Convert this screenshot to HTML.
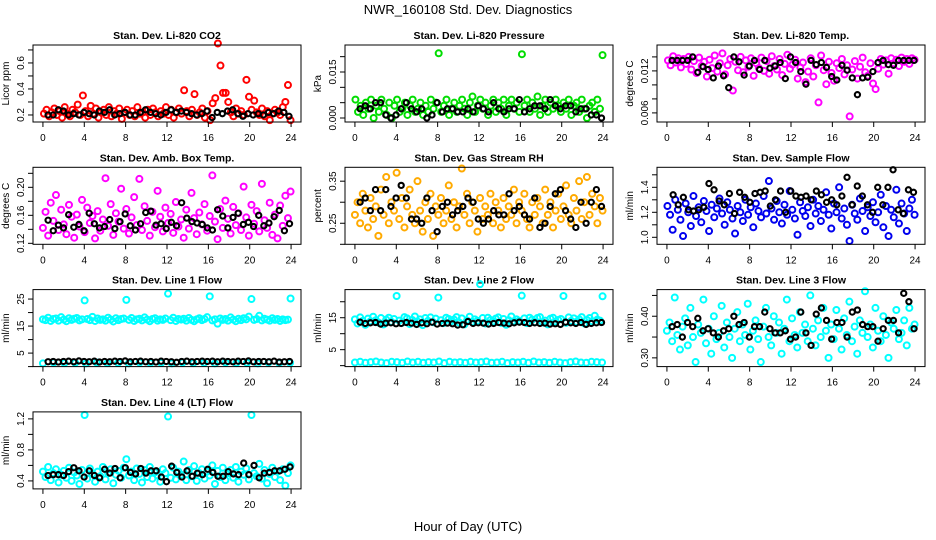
<!DOCTYPE html>
<html><head><meta charset="utf-8"><style>
html,body{margin:0;padding:0;background:#fff;}
svg{display:block;font-family:"Liberation Sans",sans-serif;}
</style></head><body>
<svg id="chart" width="936" height="540" viewBox="0 0 936 540">
<rect x="0" y="0" width="936" height="540" fill="#fff"/>
<text x="468" y="14" text-anchor="middle" font-size="13">NWR_160108  Std. Dev. Diagnostics</text>
<text x="468" y="531" text-anchor="middle" font-size="13">Hour of Day (UTC)</text>
</svg>
<script>
const xTicks = [0,4,8,12,16,20,24];
const co2Color = [0.21,0.24,0.19,0.22,0.25,0.2,0.23,0.18,0.26,0.21,0.19,0.24,0.22,0.28,0.2,0.35,0.23,0.19,0.27,0.21,0.25,0.18,0.22,0.24,0.2,0.26,0.19,0.23,0.21,0.25,0.17,0.22,0.24,0.2,0.23,0.19,0.26,0.21,0.22,0.18,0.24,0.2,0.25,0.22,0.19,0.23,0.21,0.26,0.2,0.24,0.18,0.22,0.25,0.21,0.39,0.23,0.19,0.24,0.36,0.2,0.22,0.25,0.18,0.23,0.16,0.29,0.33,0.75,0.58,0.37,0.37,0.3,0.22,0.19,0.25,0.21,0.23,0.2,0.47,0.34,0.24,0.31,0.22,0.2,0.25,0.19,0.23,0.16,0.21,0.24,0.22,0.2,0.26,0.3,0.43,0.16];
const co2Black = [0.2,0.2,0.24,0.23,0.2,0.21,0.2,0.22,0.21,0.2,0.23,0.22,0.24,0.2,0.21,0.22,0.2,0.2,0.22,0.24,0.22,0.21,0.2,0.22,0.24,0.22,0.23,0.22,0.21,0.2,0.21,0.23,0.18,0.22,0.21,0.23,0.24,0.21,0.19,0.21,0.2,0.21,0.2,0.22,0.21,0.23,0.22,0.19];
const presColor = [0.006,0.002,0.004,0.001,0.005,0.003,0.006,0.0,0.004,0.002,0.006,0.003,0.001,0.005,0.0,0.004,0.006,0.002,0.003,0.005,0.001,0.004,0.006,0.002,0.003,0.005,0.001,0.004,0.002,0.006,0.003,0.005,0.0211,0.002,0.004,0.006,0.001,0.003,0.005,0.002,0.004,0.006,0.003,0.001,0.005,0.007,0.002,0.004,0.006,0.003,0.005,0.001,0.004,0.006,0.002,0.005,0.003,0.006,0.001,0.004,0.006,0.003,0.005,0.002,0.0208,0.004,0.006,0.002,0.005,0.003,0.007,0.001,0.004,0.006,0.002,0.005,0.003,0.006,0.004,0.002,0.005,0.003,0.006,0.001,0.004,0.005,0.002,0.006,0.003,0.0,0.004,0.005,0.002,0.006,0.003,0.0205];
const presBlack = [0.003,0.004,0.003,0.005,0.005,0.001,0.0,0.001,0.003,0.005,0.003,0.002,0.003,0.0,0.001,0.005,0.002,0.003,0.003,0.002,0.002,0.003,0.002,0.004,0.003,0.002,0.005,0.003,0.002,0.003,0.003,0.006,0.002,0.003,0.004,0.004,0.003,0.006,0.004,0.003,0.004,0.004,0.002,0.003,0.003,0.001,0.001,0.0];
const tempColor = [0.0135,0.0128,0.0141,0.0132,0.0138,0.0125,0.0137,0.013,0.014,0.0122,0.0134,0.0117,0.0139,0.0127,0.0133,0.0112,0.0136,0.0124,0.0142,0.0119,0.0131,0.0145,0.0115,0.0128,0.0137,0.0092,0.0133,0.0121,0.014,0.0118,0.0135,0.0126,0.0138,0.0113,0.0131,0.0124,0.0139,0.012,0.0134,0.0116,0.0141,0.0127,0.0122,0.0137,0.0114,0.013,0.0143,0.0123,0.0129,0.0136,0.0109,0.0125,0.0132,0.0104,0.0119,0.0138,0.0112,0.0128,0.0075,0.0142,0.0121,0.0101,0.0133,0.0117,0.0106,0.0131,0.0124,0.0137,0.0115,0.0128,0.0055,0.0122,0.0134,0.0109,0.0126,0.0139,0.0118,0.0113,0.0131,0.0102,0.0094,0.0123,0.0137,0.0129,0.0135,0.0116,0.0138,0.0131,0.0136,0.0127,0.0139,0.0133,0.0137,0.013,0.0138,0.0136];
const tempBlack = [0.0135,0.0135,0.0135,0.0135,0.014,0.0118,0.0126,0.0122,0.011,0.0127,0.0113,0.0096,0.014,0.0133,0.0114,0.0127,0.0135,0.0122,0.0135,0.0124,0.0127,0.0132,0.0109,0.014,0.0132,0.0119,0.0101,0.0135,0.0129,0.0132,0.0125,0.0112,0.0107,0.0128,0.0121,0.011,0.0086,0.011,0.0111,0.0119,0.0132,0.0135,0.0129,0.0128,0.0135,0.0135,0.0135,0.0135];
const ambColor = [0.142,0.165,0.131,0.178,0.152,0.189,0.139,0.168,0.147,0.133,0.175,0.158,0.128,0.161,0.144,0.182,0.136,0.171,0.149,0.159,0.127,0.166,0.138,0.154,0.213,0.145,0.176,0.132,0.163,0.151,0.198,0.141,0.169,0.134,0.157,0.186,0.146,0.212,0.139,0.173,0.152,0.131,0.165,0.143,0.195,0.158,0.137,0.171,0.149,0.162,0.135,0.179,0.144,0.154,0.128,0.168,0.141,0.192,0.156,0.133,0.164,0.147,0.176,0.138,0.159,0.217,0.151,0.126,0.169,0.142,0.181,0.155,0.134,0.172,0.146,0.163,0.139,0.201,0.157,0.131,0.175,0.148,0.166,0.137,0.205,0.153,0.142,0.178,0.132,0.161,0.127,0.174,0.145,0.188,0.156,0.194];
const ambBlack = [0.153,0.138,0.146,0.142,0.161,0.143,0.147,0.138,0.163,0.148,0.142,0.144,0.154,0.141,0.151,0.162,0.145,0.139,0.148,0.164,0.166,0.146,0.148,0.141,0.15,0.145,0.178,0.156,0.151,0.149,0.147,0.142,0.139,0.168,0.159,0.142,0.157,0.163,0.147,0.15,0.144,0.16,0.145,0.149,0.158,0.167,0.138,0.148];
const rhColor = [0.27,0.3,0.25,0.32,0.28,0.24,0.31,0.26,0.29,0.22,0.33,0.27,0.36,0.25,0.3,0.28,0.37,0.26,0.31,0.24,0.29,0.33,0.27,0.25,0.35,0.28,0.23,0.3,0.26,0.32,0.22,0.29,0.27,0.31,0.25,0.28,0.34,0.26,0.3,0.24,0.29,0.38,0.27,0.32,0.25,0.3,0.28,0.23,0.31,0.26,0.29,0.27,0.32,0.25,0.3,0.28,0.24,0.31,0.26,0.29,0.27,0.33,0.25,0.3,0.28,0.32,0.26,0.24,0.3,0.27,0.31,0.29,0.25,0.33,0.27,0.3,0.24,0.28,0.32,0.26,0.29,0.34,0.27,0.25,0.31,0.28,0.35,0.26,0.3,0.36,0.27,0.32,0.29,0.25,0.31,0.28];
const rhBlack = [0.3,0.31,0.28,0.33,0.28,0.33,0.29,0.31,0.34,0.31,0.26,0.26,0.25,0.31,0.28,0.23,0.29,0.3,0.27,0.28,0.29,0.31,0.3,0.26,0.25,0.26,0.28,0.27,0.27,0.32,0.28,0.29,0.27,0.26,0.31,0.24,0.25,0.29,0.32,0.33,0.28,0.26,0.24,0.3,0.25,0.3,0.33,0.29];
const flowColor = [1.25,1.18,1.06,1.3,1.22,1.14,1.01,1.27,1.2,1.09,1.33,1.17,1.24,1.12,1.29,1.21,1.05,1.26,1.16,1.23,1.31,1.19,1.1,1.28,1.22,1.15,1.03,1.25,1.2,1.13,1.3,1.18,1.24,1.08,1.27,1.21,1.16,1.33,1.19,1.45,1.23,1.14,1.29,1.2,1.11,1.26,1.18,1.37,1.22,1.15,1.02,1.28,1.21,1.17,1.24,1.09,1.3,1.19,1.25,1.13,1.22,1.36,1.18,1.07,1.27,1.2,1.4,1.15,1.23,1.1,0.97,1.26,1.19,1.14,1.31,1.21,1.05,1.24,1.17,1.28,1.12,1.2,1.34,1.08,1.25,1.01,1.22,1.16,1.38,1.11,1.27,1.19,1.05,1.23,1.3,1.18];
const flowBlack = [1.34,1.26,1.32,1.22,1.21,1.22,1.24,1.43,1.38,1.29,1.26,1.35,1.19,1.36,1.32,1.28,1.35,1.36,1.37,1.25,1.3,1.37,1.2,1.37,1.33,1.32,1.33,1.3,1.37,1.34,1.28,1.3,1.26,1.33,1.48,1.26,1.41,1.33,1.26,1.2,1.4,1.26,1.4,1.54,1.22,1.19,1.38,1.36];
const line1Color = [17.5,17.2,18.1,16.9,17.6,17.8,17.0,18.3,17.4,16.8,17.9,17.3,17.7,18.0,17.1,17.5,24.5,17.6,17.2,18.4,16.9,17.8,17.3,17.5,17.0,18.1,17.4,16.7,17.9,17.2,17.6,17.8,24.7,17.3,18.0,16.9,17.5,17.7,17.1,18.2,17.4,16.8,17.6,17.9,17.0,17.5,17.3,17.8,27.0,17.2,18.1,16.9,17.6,17.4,17.7,17.0,18.0,17.3,16.8,17.5,17.9,17.2,17.6,18.3,26.0,17.1,17.5,15.9,17.8,17.3,17.6,17.0,18.2,17.4,16.8,17.7,17.2,17.9,17.5,18.5,25.0,17.3,17.6,18.8,17.1,17.7,17.4,17.0,17.9,17.3,17.6,16.9,17.5,17.2,17.4,25.2];
const line1Low = [1.2,1.5,1.3,1.4,1.2,1.5,1.3,1.4,1.2,1.5,1.3,1.4,1.2,1.5,1.3,1.4,1.2,1.5,1.3,1.4,1.2,1.5,1.3,1.4];
const line1Black = [1.8,1.9,1.7,1.9,2.0,1.8,2.1,1.9,1.8,2.0,1.7,1.9,1.8,2.0,1.9,2.1,1.8,1.9,2.0,1.8,1.9,1.7,2.0,1.9,1.8,1.6,1.9,2.0,1.8,1.9,2.0,1.9,2.0,1.8,2.0,1.9,1.8,2.0,1.9,2.1,1.8,1.9,1.9,1.8,2.0,1.7,1.8,1.9];
const line2Color = [14.5,13.2,15.1,14.0,12.8,14.7,13.9,15.3,14.2,13.5,14.9,12.9,14.4,15.0,13.7,14.6,21.8,14.1,13.4,15.2,14.8,13.0,14.3,15.4,13.8,14.5,12.7,14.9,14.0,15.1,13.6,14.7,21.3,14.2,13.3,15.0,14.6,13.9,14.4,15.2,13.5,14.8,12.9,14.1,15.3,13.7,14.5,14.0,25.5,14.9,13.2,15.0,14.3,13.8,14.7,15.1,13.4,14.6,12.8,14.2,15.4,13.9,14.5,14.0,21.9,14.8,13.3,15.0,14.4,13.6,14.9,15.2,13.5,14.1,12.9,14.7,15.0,13.8,14.3,14.6,21.8,13.4,15.1,14.0,14.8,13.7,14.5,15.2,13.2,14.3,14.9,13.9,15.6,14.4,14.1,21.7];
const line2Low = [1.0,1.2,0.9,1.1,1.3,1.0,0.8,1.2,1.1,0.9,1.3,1.0,1.2,0.9,1.1,1.0,1.3,0.8,1.2,1.0,1.1,0.9,1.2,1.0,1.1,1.3,0.9,1.0,1.2,0.8,1.1,1.0,1.2,0.9,1.3,1.0,1.1,0.9,1.2,1.0,0.8,1.1,1.3,1.0,0.9,1.2,1.1,1.0];
const line2Black = [13.6,13.2,13.4,13.5,13.0,13.3,13.4,13.1,13.2,13.5,13.3,12.9,13.4,13.1,13.6,13.0,13.2,13.3,13.1,12.7,12.8,13.8,13.2,13.4,13.3,13.0,13.2,13.5,13.3,13.1,13.4,13.6,13.5,13.2,13.4,13.2,13.3,13.0,13.1,12.9,13.6,13.4,13.2,13.5,12.9,13.2,13.4,13.5];
const line3Color = [0.365,0.385,0.34,0.445,0.355,0.32,0.375,0.395,0.33,0.42,0.35,0.29,0.38,0.36,0.44,0.335,0.37,0.31,0.40,0.345,0.36,0.425,0.325,0.385,0.35,0.30,0.37,0.41,0.34,0.38,0.355,0.43,0.32,0.365,0.39,0.345,0.29,0.375,0.42,0.35,0.33,0.40,0.36,0.385,0.31,0.37,0.44,0.34,0.395,0.355,0.325,0.41,0.36,0.38,0.34,0.45,0.37,0.33,0.39,0.35,0.42,0.365,0.30,0.38,0.345,0.415,0.37,0.32,0.395,0.355,0.435,0.34,0.375,0.31,0.39,0.36,0.46,0.35,0.38,0.325,0.42,0.365,0.34,0.40,0.355,0.30,0.385,0.37,0.415,0.345,0.36,0.39,0.33,0.42,0.37,0.38];
const line3Black = [0.375,0.38,0.35,0.385,0.375,0.395,0.365,0.37,0.36,0.35,0.365,0.37,0.4,0.38,0.385,0.35,0.375,0.375,0.41,0.37,0.36,0.36,0.365,0.345,0.35,0.41,0.36,0.33,0.405,0.42,0.39,0.345,0.385,0.385,0.35,0.41,0.415,0.38,0.375,0.375,0.34,0.37,0.39,0.39,0.36,0.455,0.435,0.37];
const line4Color = [0.52,0.45,0.58,0.41,0.5,0.55,0.38,0.48,0.53,0.44,0.57,0.4,0.51,0.47,0.36,0.54,1.25,0.43,0.56,0.49,0.39,0.52,0.46,0.58,0.42,0.5,0.55,0.37,0.48,0.53,0.44,0.57,0.68,0.47,0.52,0.41,0.56,0.49,0.38,0.54,0.45,0.58,0.43,0.51,0.47,0.39,0.55,0.5,1.23,0.44,0.57,0.42,0.52,0.48,0.65,0.41,0.54,0.46,0.59,0.4,0.5,0.55,0.43,0.52,0.47,0.6,0.36,0.53,0.45,0.57,0.41,0.5,0.54,0.44,0.58,0.39,0.52,0.48,0.56,0.42,1.25,0.5,0.46,0.62,0.43,0.54,0.37,0.49,0.57,0.45,0.52,0.41,0.55,0.34,0.5,0.6];
const line4Black = [0.47,0.48,0.48,0.47,0.52,0.57,0.53,0.45,0.53,0.47,0.44,0.55,0.5,0.56,0.44,0.57,0.51,0.49,0.56,0.5,0.53,0.53,0.45,0.39,0.59,0.51,0.45,0.53,0.46,0.5,0.48,0.55,0.51,0.46,0.46,0.52,0.49,0.48,0.63,0.48,0.6,0.44,0.5,0.51,0.53,0.53,0.55,0.58];

const panels = [
 {name:'co2',title:'Stan. Dev. Li-820 CO2',ylab:'Licor ppm',col:0,row:0,ymin:0.146,ymax:0.738,ticks:[0.2,0.3,0.4,0.5,0.6,0.7],labels:['0.2','','0.4','','0.6',''],series:[[co2Color,'#ff0000',0.1,23.95],[co2Black,'#000',0.5,23.8]]},
 {name:'pressure',title:'Stan. Dev. Li-820 Pressure',ylab:'kPa',col:1,row:0,ymin:-0.0013,ymax:0.0238,ticks:[0,0.005,0.01,0.015,0.02],labels:['0.000','','','0.015',''],series:[[presColor,'#00dd00',0.05,23.95],[presBlack,'#000',0.5,23.85]]},
 {name:'li-temp',title:'Stan. Dev. Li-820 Temp.',ylab:'degrees C',col:2,row:0,ymin:0.0047,ymax:0.0157,ticks:[0.006,0.008,0.01,0.012,0.014],labels:['0.006','','','0.012',''],series:[[tempColor,'#ff00ff',0.1,23.95],[tempBlack,'#000',0.5,23.9]]},
 {name:'amb-box-temp',title:'Stan. Dev. Amb. Box Temp.',ylab:'degrees C',col:0,row:1,ymin:0.1186,ymax:0.2286,ticks:[0.12,0.14,0.16,0.18,0.2,0.22],labels:['0.12','','0.16','','0.20',''],series:[[ambColor,'#ff00ff',0.0,23.95],[ambBlack,'#000',0.5,23.85]]},
 {name:'gas-rh',title:'Stan. Dev. Gas Stream RH',ylab:'percent',col:1,row:1,ymin:0.2,ymax:0.383,ticks:[0.2,0.25,0.3,0.35],labels:['','0.25','','0.35'],series:[[rhColor,'#ffaa00',0.0,23.95],[rhBlack,'#000',0.5,23.85]]},
 {name:'sample-flow',title:'Stan. Dev. Sample Flow',ylab:'ml/min',col:2,row:1,ymin:0.944,ymax:1.56,ticks:[1.0,1.1,1.2,1.3,1.4,1.5],labels:['1.0','','1.2','','1.4',''],series:[[flowColor,'#0000ee',0.05,23.95],[flowBlack,'#000',0.6,23.85]]},
 {name:'line1-flow',title:'Stan. Dev. Line 1 Flow',ylab:'ml/min',col:0,row:2,ymin:0,ymax:28.5,ticks:[0,5,10,15,20,25],labels:['','5','','15','','25'],series:[[line1Color,'#00ffff',0.0,23.95],[line1Low,'#00ffff',0.0,23.9],[line1Black,'#000',0.5,23.85]]},
 {name:'line2-flow',title:'Stan. Dev. Line 2 Flow',ylab:'ml/min',col:1,row:2,ymin:-0.3,ymax:23.8,ticks:[0,5,10,15,20],labels:['','5','','15',''],series:[[line2Color,'#00ffff',0.0,23.95],[line2Low,'#00ffff',0.0,23.9],[line2Black,'#000',0.5,23.85]]},
 {name:'line3-flow',title:'Stan. Dev. Line 3 Flow',ylab:'ml/min',col:2,row:2,ymin:0.279,ymax:0.464,ticks:[0.3,0.35,0.4,0.45],labels:['0.30','','0.40',''],series:[[line3Color,'#00ffff',0.0,23.95],[line3Black,'#000',0.5,23.9]]},
 {name:'line4-flow',title:'Stan. Dev. Line 4 (LT) Flow',ylab:'ml/min',col:0,row:3,ymin:0.297,ymax:1.29,ticks:[0.4,0.6,0.8,1.0,1.2],labels:['0.4','','0.8','','1.2'],series:[[line4Color,'#00ffff',0.0,23.95],[line4Black,'#000',0.5,23.9]]}
];

const svg = document.getElementById('chart');
const NS = 'http://www.w3.org/2000/svg';
function mk(tag, attrs, parent){const e=document.createElementNS(NS,tag);for(const k in attrs)e.setAttribute(k,attrs[k]);parent.appendChild(e);return e;}

panels.forEach(p => {
  const L = p.col*312 + 33, R = L + 268, T = 45 + p.row*122.3, B = T + 77;
  const xs = h => L + (h + 0.96) / 25.92 * (R - L);
  const ys = v => B - (v - p.ymin) / (p.ymax - p.ymin) * (B - T);
  const g = mk('g', {}, svg);
  
  
  const t = mk('text', {x:(L+R)/2, y:T-6, 'text-anchor':'middle', 'font-size':'10.5', 'font-weight':'bold'}, g);
  t.textContent = p.title;
  
  
  const yl = mk('text', {x:0, y:0, 'text-anchor':'middle', 'font-size':'10', transform:`translate(${L-24},${(T+B)/2}) rotate(-90)`}, g);
  yl.textContent = p.ylab;
  
  
  const pts = mk('g', {fill:'none'}, g);
  
  
  p.series.forEach(s => {
    const [vals, color, h0, h1] = s;
    const n = vals.length;
    const step = n > 1 ? (h1 - h0) / (n - 1) : 0;
    const isBlack = color === '#000';
    const sw = isBlack ? 2.1 : 2.0;
    const rad = isBlack ? 2.6 : 3.0;
    vals.forEach((v, i) => {
      const c = mk('circle', {cx:xs(h0 + i*step), cy:ys(v), r:rad, stroke:color, 'stroke-width':sw}, pts);
      
      
    });
  });
  const box = mk('rect', {x:L, y:T, width:R-L, height:B-T, fill:'none', stroke:'#000', 'stroke-width':'1'}, g);
  
  
  xTicks.forEach(h => {
    const x = xs(h);
    mk('line', {x1:x, x2:x, y1:B, y2:B+5, stroke:'#000'}, g);
    const tl = mk('text', {x:x, y:B+19, 'text-anchor':'middle', 'font-size':'10'}, g);
    tl.textContent = h;
    
    
  });
  p.ticks.forEach((v, i) => {
    const y = ys(v);
    mk('line', {x1:L-5, x2:L, y1:y, y2:y, stroke:'#000'}, g);
    if (p.labels[i]) {
      const tl = mk('text', {x:0, y:0, 'text-anchor':'middle', 'font-size':'10', transform:`translate(${L-9},${y}) rotate(-90)`}, g);
      tl.textContent = p.labels[i];
      
      
    }
  });
});
</script>
</body></html>
